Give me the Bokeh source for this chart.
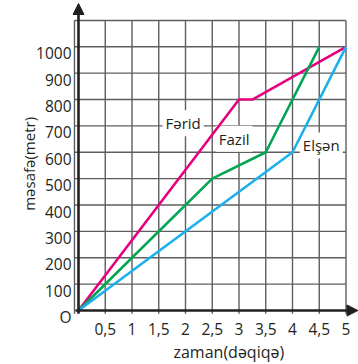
from math import pi
from bokeh.plotting import figure
from bokeh.models import Range1d, Arrow, NormalHead
from bokeh.core.properties import value
from bokeh.embed import file_html
from bokeh.resources import INLINE

# ---- data (time in minutes, distance in metres) ----
farid_t = [0, 3, 3.25, 5]
farid_d = [0, 800, 800, 1000]
fazil_t = [0, 2.5, 3.5, 4.5]
fazil_d = [0, 500, 600, 1000]
elsen_t = [0, 4, 5]
elsen_d = [0, 600, 1000]

x_ticks = [0.5, 1, 1.5, 2, 2.5, 3, 3.5, 4, 4.5, 5]
x_tick_labels = ["0,5", "1", "1,5", "2", "2,5", "3", "3,5", "4", "4,5", "5"]
y_ticks = [0, 100, 200, 300, 400, 500, 600, 700, 800, 900, 1000]
y_tick_labels = ["O", "100", "200", "300", "400", "500", "600", "700", "800", "900", "1000"]
grid_x = [0.5, 1, 1.5, 2, 2.5, 3, 3.5, 4, 4.5, 5]
grid_y = [100, 200, 300, 400, 500, 600, 700, 800, 900, 1000, 1100]

x_title = "zaman(dəqiqə)"
y_title = "məsafə(metr)"
names = ["Fərid", "Fazil", "Elşən"]

# ---- layout / style ----
W, H = 358, 364
PX0, PY0 = 78.0, 310.0      # pixel position of the origin inside the figure
SX, SY = 53.5, 0.2637       # pixels per unit
INK = "#231f20"
GRID = "#5e5e5e"
FONT = value("Open Sans")

p = figure(width=W, height=H, output_backend="svg", toolbar_location=None,
           x_range=Range1d(-PX0 / SX, (W - PX0) / SX),
           y_range=Range1d(-(H - PY0) / SY, PY0 / SY),
           x_axis_location=None, y_axis_location=None,
           min_border=0, outline_line_color=None,
           background_fill_color="white", border_fill_color="white")
p.grid.visible = False

g_left, g_right = -0.075, max(grid_x)
g_bottom, g_top = -12, max(grid_y)
vx = [g_left] + grid_x
p.segment(x0=vx, y0=[g_bottom] * len(vx), x1=vx, y1=[g_top] * len(vx),
          line_color=GRID, line_width=1.4)
p.segment(x0=[g_left] * len(grid_y), y0=grid_y, x1=[g_right] * len(grid_y), y1=grid_y,
          line_color=GRID, line_width=1.4)

# series names (white box hides the grid, drawn below the data lines)
p.text(x=[1.57, 2.566, 4.137], y=[710, 651, 626], text=names,
       text_baseline="alphabetic", text_align="left",
       text_font=FONT, text_font_size="15px", text_color=INK,
       background_fill_color="white", padding=3)

# data lines
p.line(farid_t, farid_d, line_color="#e6007e", line_width=2.6)
p.line(fazil_t, fazil_d, line_color="#00a651", line_width=2.6)
p.line(elsen_t, elsen_d, line_color="#1cb0ec", line_width=2.6)

# axes with arrows
p.add_layout(Arrow(end=NormalHead(size=11, fill_color=INK, line_color=INK),
                   x_start=-0.056, y_start=0, x_end=(W - PX0) / SX - 0.01, y_end=0,
                   line_color=INK, line_width=2.6))
p.add_layout(Arrow(end=NormalHead(size=11, fill_color=INK, line_color=INK),
                   x_start=0, y_start=-12.5, x_end=0, y_end=(PY0 - 3) / SY,
                   line_color=INK, line_width=2.6))

# tick labels
p.text(x=x_ticks, y=[-69.4] * len(x_ticks), text=x_tick_labels,
       text_align="center", text_baseline="alphabetic",
       text_font=FONT, text_font_size="15.5px", text_color=INK)
p.text(x=[-0.131] * len(y_ticks), y=y_ticks, text=y_tick_labels,
       text_align="right", text_baseline="alphabetic", y_offset=6.5,
       text_font=FONT, text_font_size="15.5px", text_color=INK)

# axis titles
p.text(x=[2.81], y=[-156], text=[x_title], text_align="center",
       text_baseline="alphabetic", text_font=FONT, text_font_size="16px", text_color=INK)
p.text(x=[-0.929], y=[556], text=[y_title], angle=pi / 2, text_align="center",
       text_baseline="alphabetic", text_font=FONT, text_font_size="15px", text_color=INK)

open("out.html", "w").write(file_html(p, INLINE))
